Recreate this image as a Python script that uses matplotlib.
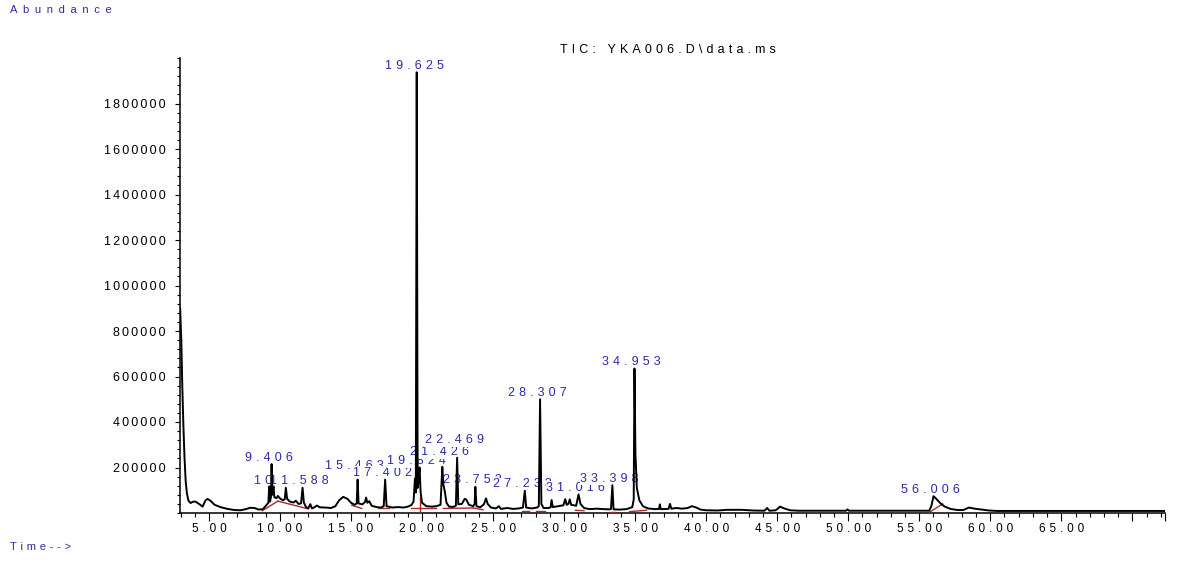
import numpy as np
import matplotlib.pyplot as plt
from matplotlib.ticker import FixedLocator, MultipleLocator, FuncFormatter

plt.rcParams['font.family'] = ['Liberation Sans', 'DejaVu Sans']

# TIC trace: retention time (min), abundance
time = [2.97, 3.05, 3.12, 3.20, 3.28, 3.36, 3.45, 3.55, 3.70, 3.90, 4.05, 4.30, 4.55, 4.75, 4.90,
        5.10, 5.40, 5.80, 6.30, 6.80, 7.20, 7.60, 7.90, 8.20, 8.50, 8.80, 9.05, 9.18, 9.24, 9.30,
        9.36, 9.406, 9.46, 9.50, 9.54, 9.60, 9.75, 9.85, 10.00, 10.20, 10.33, 10.412, 10.50, 10.70,
        10.95, 11.12, 11.30, 11.48, 11.588, 11.68, 11.85, 12.00, 12.13, 12.25, 12.45, 12.60, 12.80,
        13.20, 13.60, 13.90, 14.15, 14.45, 14.75, 15.00, 15.25, 15.40, 15.463, 15.53, 15.80, 15.98,
        16.06, 16.15, 16.28, 16.45, 16.80, 17.10, 17.30, 17.402, 17.50, 17.90, 18.30, 18.70, 19.00,
        19.25, 19.40, 19.50, 19.56, 19.625, 19.69, 19.75, 19.824, 19.90, 20.00, 20.30, 20.70, 21.00,
        21.30, 21.426, 21.50, 21.60, 21.72, 21.90, 22.20, 22.38, 22.469, 22.55, 22.80, 23.00, 23.10,
        23.30, 23.60, 23.70, 23.752, 23.83, 24.10, 24.35, 24.50, 24.62, 24.85, 25.20, 25.40, 25.55,
        26.00, 26.40, 26.80, 27.10, 27.233, 27.33, 27.70, 28.10, 28.22, 28.307, 28.40, 28.55, 28.90,
        29.05, 29.12, 29.20, 29.60, 29.95, 30.08, 30.18, 30.30, 30.40, 30.50, 30.85, 31.016, 31.15,
        31.40, 31.80, 32.30, 32.80, 33.20, 33.30, 33.398, 33.48, 33.90, 34.40, 34.80, 34.90, 34.953,
        35.02, 35.12, 35.30, 35.55, 35.90, 36.40, 36.68, 36.74, 36.80, 37.35, 37.45, 37.55, 37.90,
        38.30, 38.70, 39.00, 39.30, 39.60, 40.00, 40.80, 41.50, 42.50, 43.30, 44.10, 44.30, 44.45,
        44.90, 45.20, 45.50, 45.90, 46.50, 49.85, 49.95, 50.05, 55.70, 55.85, 56.006, 56.20, 56.50,
        56.80, 57.20, 57.70, 58.10, 58.50, 58.90, 59.40, 59.90, 60.50, 72.30]
abundance = [900000, 760000, 560000, 380000, 240000, 140000, 85000, 55000, 44000, 50000, 50000,
             40000, 28000, 55000, 62000, 54000, 36000, 26000, 18000, 13000, 12000, 17000, 23000,
             22000, 15000, 17000, 35000, 45000, 117000, 50000, 70000, 215000, 80000, 90000, 117000,
             70000, 65000, 75000, 64000, 56000, 60000, 111000, 62000, 50000, 46000, 54000, 40000,
             42000, 111000, 45000, 24000, 22000, 39000, 20000, 26000, 33000, 25000, 24000, 22000,
             30000, 55000, 71000, 62000, 45000, 36000, 42000, 147000, 42000, 38000, 48000, 68000,
             45000, 52000, 32000, 26000, 24000, 30000, 147000, 30000, 24000, 26000, 24000, 28000,
             35000, 50000, 152000, 90000, 1937000, 110000, 140000, 200000, 90000, 45000, 30000,
             28000, 30000, 36000, 203000, 125000, 95000, 45000, 28000, 27000, 32000, 243000, 38000,
             40000, 62000, 60000, 36000, 30000, 40000, 115000, 30000, 25000, 38000, 64000, 40000,
             24000, 20000, 30000, 18000, 22000, 18000, 20000, 24000, 98000, 24000, 20000, 24000,
             30000, 500000, 40000, 22000, 22000, 25000, 57000, 26000, 30000, 34000, 61000, 36000,
             40000, 60000, 36000, 32000, 82000, 40000, 22000, 17000, 19000, 17000, 16000, 18000,
             122000, 16000, 15000, 17000, 26000, 60000, 635000, 260000, 110000, 55000, 30000, 20000,
             17000, 18000, 38000, 17000, 18000, 40000, 19000, 22000, 19000, 22000, 30000, 24000,
             15000, 12000, 11000, 14000, 14000, 11000, 10000, 22000, 10000, 12000, 28000, 20000,
             12000, 10000, 10000, 16000, 10000, 10000, 30000, 74000, 62000, 42000, 28000, 18000,
             13000, 13000, 24000, 19000, 15000, 11000, 9000, 9000]

# labelled peaks
peak_names = ['9.406', '10.412', '11.588', '15.463', '17.402', '19.625', '19.824', '21.426',
              '22.469', '23.752', '27.233', '28.307', '31.016', '33.398', '34.953', '56.006']
peak_times = [9.406, 10.412, 11.588, 15.463, 17.402, 19.625, 19.824, 21.426,
              22.469, 23.752, 27.233, 28.307, 31.016, 33.398, 34.953, 56.006]
peak_heights = [215000, 111000, 111000, 147000, 147000, 1937000, 200000, 203000,
                243000, 115000, 98000, 500000, 82000, 122000, 635000, 74000]

# integration baselines (red): start time, start abundance, end time, end abundance
base_t0 = [8.75, 9.85, 15.05, 16.9, 19.2, 19.824, 21.5, 23.6, 27.05, 28.0, 30.8, 33.25, 34.6, 55.74]
base_v0 = [10000, 52000, 34000, 22000, 24000, 0, 20000, 22000, 8000, 8000, 12000, 6000, 6000, 4000]
base_t1 = [9.85, 12.0, 15.75, 17.7, 21.0, 19.824, 23.6, 24.3, 27.5, 28.65, 31.4, 33.6, 35.8, 56.65]
base_v1 = [52000, 18000, 20000, 22000, 24000, 70000, 22000, 14000, 8000, 8000, 10000, 6000, 12000, 40000]

x_labels = ['5.00', '10.00', '15.00', '20.00', '25.00', '30.00', '35.00', '40.00',
            '45.00', '50.00', '55.00', '60.00', '65.00']
y_labels = ['200000', '400000', '600000', '800000', '1000000', '1200000', '1400000',
            '1600000', '1800000']

BLUE = '#2b2ba6'
RED = '#a82a2a'


def spaced(s, gap='\u2004'):
    return gap.join(s)


fig = plt.figure(figsize=(11.79, 5.63), dpi=100)
ax = fig.add_axes([180 / 1179, 50 / 563, 985 / 1179, 455 / 563])

ax.plot(time, abundance, color='black', lw=1.4, zorder=10)
for i in range(len(base_t0)):
    ax.plot([base_t0[i], base_t1[i]], [base_v0[i], base_v1[i]], color=RED, lw=1.0, zorder=9)

lift = {'15.463': 7, '21.426': 8, '22.469': 11}
for i, name in enumerate(peak_names):
    ax.annotate(spaced(name), (peak_times[i], peak_heights[i]),
                xytext=(-2, 2.5 + lift.get(name, 0) * 0.72), textcoords='offset points',
                ha='center', va='baseline', fontsize=9, color=BLUE, zorder=2 + i * 0.01,
                bbox=dict(boxstyle='square,pad=0.05', fc='white', ec='none'))

ax.set_xlim(2.96, 72.3)
ax.set_ylim(0, 2000000)

for s in ['top', 'right']:
    ax.spines[s].set_visible(False)
for s in ['left', 'bottom']:
    ax.spines[s].set_linewidth(1.1)

xt = [float(v) for v in x_labels] + [70.0, 72.3]
ax.xaxis.set_major_locator(FixedLocator(xt))
ax.set_xticklabels([spaced(v) for v in x_labels] + ['', ''])
ax.xaxis.set_minor_locator(MultipleLocator(1))
ax.tick_params(axis='x', which='major', length=5.5, width=0.8, pad=1.5, labelsize=8.5)
ax.tick_params(axis='x', which='minor', length=2.8, width=0.8)

yt = [float(v) for v in y_labels]
ax.yaxis.set_major_locator(FixedLocator(yt))
ax.set_yticklabels([spaced(v, '\u2006') for v in y_labels])
ax.yaxis.set_minor_locator(MultipleLocator(40000))
ax.tick_params(axis='y', which='major', length=3.8, width=0.8, pad=6.5, labelsize=9)
ax.tick_params(axis='y', which='minor', length=2.2, width=0.8)

fig.text(10 / 1179, 1 - 10 / 563, spaced('Abundance', '\u2002'), color=BLUE, fontsize=8,
         ha='left', va='center')
fig.text(10 / 1179, 1 - 547 / 563, spaced('Time-->'), color=BLUE, fontsize=8,
         ha='left', va='center')
fig.text(668 / 1179, 1 - 50 / 563, spaced('TIC: YKA006.D\\data.ms'), color='black', fontsize=9,
         ha='center', va='center')

fig.savefig('out.png', dpi=100)
